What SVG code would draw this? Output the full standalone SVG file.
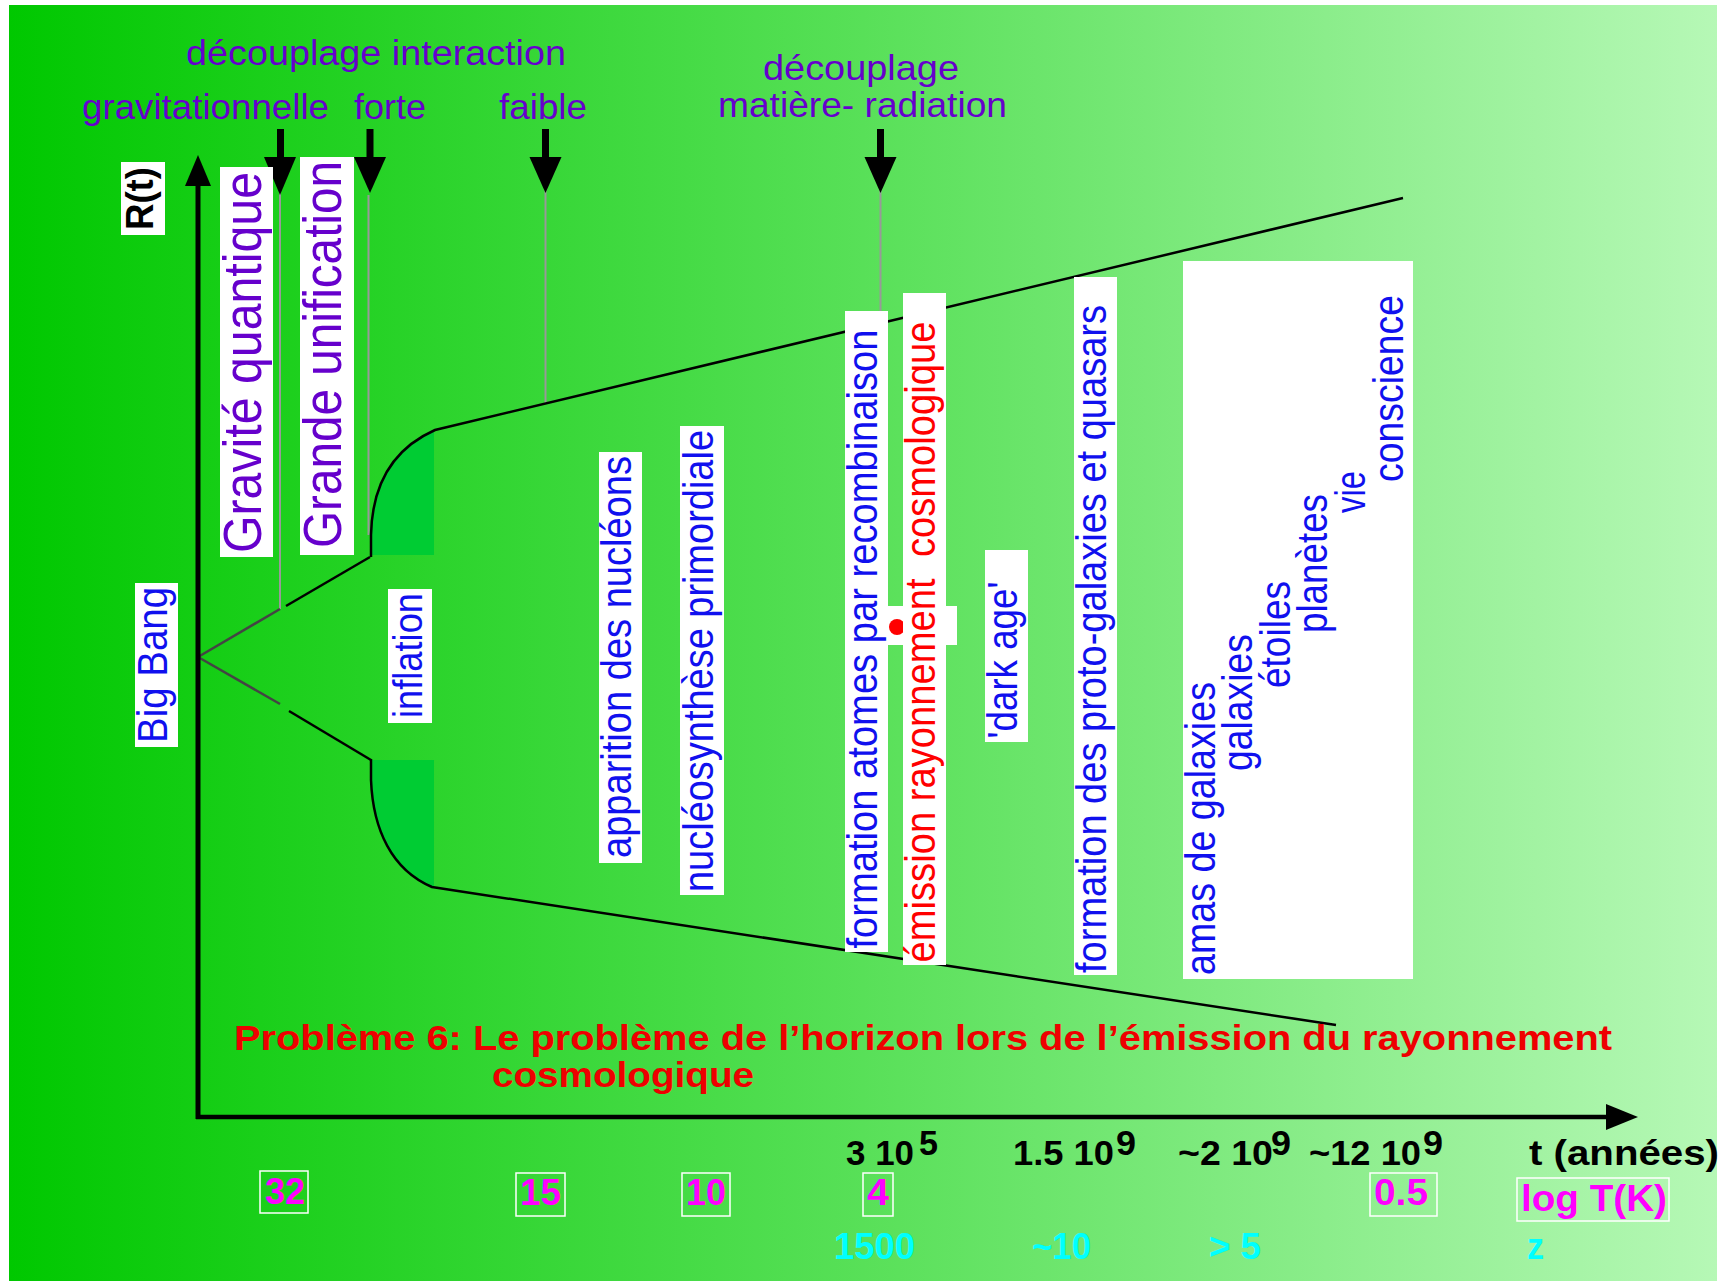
<svg xmlns="http://www.w3.org/2000/svg" width="1729" height="1281" viewBox="0 0 1729 1281">
<defs>
<linearGradient id="bg" x1="9" y1="0" x2="1717" y2="0" gradientUnits="userSpaceOnUse">
<stop offset="0" stop-color="#00c800"/>
<stop offset="0.5" stop-color="#58e058"/>
<stop offset="1" stop-color="#b6f8b6"/>
</linearGradient>
</defs>
<style>
text { font-family: "Liberation Sans", Arial, sans-serif; }
.purple { fill:#6600cc; font-size:35px; }
.blue { fill:#1010ee; font-size:38px; }
.red { fill:#ff0000; font-size:38px; }
.box { fill:#ffffff; }
.num { font-weight:bold; fill:#000000; font-size:35px; }
.sup { font-weight:bold; fill:#000000; font-size:35px; }
.mag { font-weight:bold; fill:#ff00ff; font-size:36px; }
.cyan { font-weight:bold; fill:#00ffff; font-size:36px; }
.title { font-weight:bold; fill:#ee0000; font-size:35px; }
.nbox { fill:none; stroke:#ffffff; stroke-width:1.5; }
.line { stroke:#000000; stroke-width:2.5; fill:none; }
.gray { stroke:#999999; stroke-width:2; fill:none; }
.dk { stroke:#444444; stroke-width:2.5; fill:none; }
.ibg { fill:#00cc33; }
.ah { fill:#000000; }
</style>
<rect width="1729" height="1281" fill="#ffffff"/>
<rect x="9" y="5" width="1708" height="1276" fill="url(#bg)"/>

<g id="inflation-region">
<path class="ibg" d="M371 555 L371 535 C372 488 390 450 435 430 L434 430 L434 555 Z"/>
<path class="ibg" d="M371 760 L371 780 C373 830 392 870 432 887 L434 887 L434 760 Z"/>
</g>

<g id="connectors">
<line class="gray" x1="280" y1="190" x2="280" y2="609"/>
<line class="gray" x1="368.5" y1="195" x2="368.5" y2="535"/>
<line class="gray" x1="545.5" y1="190" x2="545.5" y2="403"/>
<line class="gray" x1="880.5" y1="185" x2="880.5" y2="318"/>
<line class="dk" x1="198" y1="657" x2="280" y2="609"/>
<line class="line" x1="286" y1="606" x2="370" y2="557"/>
<line class="dk" x1="198" y1="657" x2="280" y2="704"/>
<line class="line" x1="289" y1="711" x2="371" y2="760"/>
<path class="line" d="M371 557 L371 535 C372 488 390 450 435 430 L1403 198"/>
<path class="line" d="M371 759 L371 780 C373 830 392 870 432 887 L1336 1025"/>
<line x1="198" y1="1119" x2="198" y2="180" stroke="#000" stroke-width="5"/>
<polygon class="ah" points="185,186 211,186 198,155"/>
<line x1="196" y1="1117" x2="1610" y2="1117" stroke="#000" stroke-width="4.5"/>
<polygon class="ah" points="1606,1104 1606,1130 1638,1117"/>
<rect class="ah" x="277" y="129" width="7" height="30"/>
<polygon class="ah" points="264,157 296,157 280,195"/>
<rect class="ah" x="366.5" y="129" width="7" height="30"/>
<polygon class="ah" points="354,157 386,157 370,193"/>
<rect class="ah" x="542" y="129" width="7" height="30"/>
<polygon class="ah" points="529.5,157 561.5,157 545.5,193"/>
<rect class="ah" x="877" y="129" width="7" height="30"/>
<polygon class="ah" points="864.5,157 896.5,157 880.5,193"/>
</g>

<g id="top-labels">
<text class="purple" x="186" y="65" textLength="380" lengthAdjust="spacingAndGlyphs">découplage interaction</text>
<text class="purple" x="82" y="119" textLength="247" lengthAdjust="spacingAndGlyphs">gravitationnelle</text>
<text class="purple" x="354" y="119" textLength="72" lengthAdjust="spacingAndGlyphs">forte</text>
<text class="purple" x="499" y="119" textLength="88" lengthAdjust="spacingAndGlyphs">faible</text>
<text class="purple" x="763" y="80" textLength="196" lengthAdjust="spacingAndGlyphs">découplage</text>
<text class="purple" x="718" y="117" textLength="289" lengthAdjust="spacingAndGlyphs">matière- radiation</text>
</g>

<g id="node-Rt">
<rect class="box" x="121" y="162" width="44" height="73"/>
<text transform="translate(153,198.5) scale(1.1,1) rotate(-90)" text-anchor="middle" font-size="35" font-weight="bold" fill="#000" textLength="63" lengthAdjust="spacingAndGlyphs">R(t)</text>
</g>

<g id="node-bigbang">
<rect class="box" x="135" y="583" width="43" height="164"/>
<text class="blue" transform="translate(167,665) scale(1.1,1) rotate(-90)" text-anchor="middle" font-size="36" textLength="156" lengthAdjust="spacingAndGlyphs">Big Bang</text>
</g>

<g id="node-gravite">
<rect class="box" x="220" y="167" width="53" height="390"/>
<text class="purple" transform="translate(261,362.5) scale(1.1,1) rotate(-90)" text-anchor="middle" style="font-size:48px" textLength="381" lengthAdjust="spacingAndGlyphs">Gravité quantique</text>
</g>

<g id="node-grande">
<rect class="box" x="300" y="157" width="54" height="398"/>
<text class="purple" transform="translate(341,354.5) scale(1.1,1) rotate(-90)" text-anchor="middle" style="font-size:48px" textLength="387" lengthAdjust="spacingAndGlyphs">Grande unification</text>
</g>

<g id="node-inflation">
<rect class="box" x="388" y="589" width="44" height="134"/>
<text class="blue" transform="translate(422,655.5) scale(1.1,1) rotate(-90)" text-anchor="middle" style="font-size:37px" textLength="125" lengthAdjust="spacingAndGlyphs">inflation</text>
</g>

<g id="node-apparition">
<rect class="box" x="599" y="452" width="43" height="411"/>
<text class="blue" transform="translate(631,657) scale(1.1,1) rotate(-90)" text-anchor="middle" textLength="402" lengthAdjust="spacingAndGlyphs">apparition des nucléons</text>
</g>

<g id="node-nucleosynthese">
<rect class="box" x="680" y="426" width="44" height="469"/>
<text class="blue" transform="translate(712.5,661) scale(1.1,1) rotate(-90)" text-anchor="middle" textLength="462" lengthAdjust="spacingAndGlyphs">nucléosynthèse primordiale</text>
</g>

<g id="node-recombinaison">
<rect class="box" x="887" y="606" width="70" height="39"/>
<circle cx="897" cy="627" r="8" fill="#ff0000"/>
<rect class="box" x="845" y="311" width="43" height="641"/>
<text class="blue" transform="translate(877,639) scale(1.1,1) rotate(-90)" text-anchor="middle" textLength="619" lengthAdjust="spacingAndGlyphs">formation atomes par recombinaison</text>
</g>

<g id="node-emission">
<rect class="box" x="903" y="293" width="43" height="672"/>
<text class="red" transform="translate(935,642) scale(1.1,1) rotate(-90)" text-anchor="middle" textLength="641" lengthAdjust="spacingAndGlyphs">émission rayonnement&#160; cosmologique</text>
</g>

<g id="node-darkage">
<rect class="box" x="985" y="550" width="43" height="192"/>
<text class="blue" transform="translate(1017,660) scale(1.1,1) rotate(-90)" text-anchor="middle" textLength="157" lengthAdjust="spacingAndGlyphs">'dark age'</text>
</g>

<g id="node-protogalaxies">
<rect class="box" x="1074" y="277" width="43" height="698"/>
<text class="blue" transform="translate(1106,639) scale(1.1,1) rotate(-90)" text-anchor="middle" textLength="668" lengthAdjust="spacingAndGlyphs">formation des proto-galaxies et quasars</text>
</g>

<g id="node-structures">
<rect class="box" x="1183" y="261" width="230" height="718"/>
<text class="blue" transform="translate(1215,975) scale(1.1,1) rotate(-90)" textLength="293" lengthAdjust="spacingAndGlyphs">amas de galaxies</text>
<text class="blue" transform="translate(1252,771) scale(1.1,1) rotate(-90)" textLength="137" lengthAdjust="spacingAndGlyphs">galaxies</text>
<text class="blue" transform="translate(1290,688) scale(1.1,1) rotate(-90)" textLength="107" lengthAdjust="spacingAndGlyphs">étoiles</text>
<text class="blue" transform="translate(1327,633) scale(1.1,1) rotate(-90)" textLength="139" lengthAdjust="spacingAndGlyphs">planètes</text>
<text class="blue" transform="translate(1365,513) scale(1.1,1) rotate(-90)" textLength="42" lengthAdjust="spacingAndGlyphs">vie</text>
<text class="blue" transform="translate(1403,482) scale(1.1,1) rotate(-90)" textLength="187" lengthAdjust="spacingAndGlyphs">conscience</text>
</g>

<g id="title">
<text class="title" x="234" y="1050" textLength="1378" lengthAdjust="spacingAndGlyphs">Problème 6: Le problème de l’horizon lors de l’émission du rayonnement</text>
<text class="title" x="492" y="1087" textLength="262" lengthAdjust="spacingAndGlyphs">cosmologique</text>
</g>

<g id="time-labels">
<text class="num" x="846" y="1165" textLength="68" lengthAdjust="spacingAndGlyphs">3 10</text>
<text class="sup" x="919" y="1155" textLength="19" lengthAdjust="spacingAndGlyphs">5</text>
<text class="num" x="1013" y="1165" textLength="101" lengthAdjust="spacingAndGlyphs">1.5 10</text>
<text class="sup" x="1116" y="1155" textLength="20" lengthAdjust="spacingAndGlyphs">9</text>
<text class="num" x="1178" y="1165" textLength="95" lengthAdjust="spacingAndGlyphs">~2 10</text>
<text class="sup" x="1271" y="1155" textLength="20" lengthAdjust="spacingAndGlyphs">9</text>
<text class="num" x="1309" y="1165" textLength="112" lengthAdjust="spacingAndGlyphs">~12 10</text>
<text class="sup" x="1423" y="1155" textLength="20" lengthAdjust="spacingAndGlyphs">9</text>
<text class="num" x="1529" y="1165" textLength="190" lengthAdjust="spacingAndGlyphs">t (années)</text>
</g>

<g id="temperature-labels">
<rect class="nbox" x="260" y="1171" width="48" height="42"/>
<text class="mag" x="265" y="1204" textLength="40" lengthAdjust="spacingAndGlyphs">32</text>
<rect class="nbox" x="516" y="1173" width="49" height="43"/>
<text class="mag" x="520" y="1205" textLength="41" lengthAdjust="spacingAndGlyphs">15</text>
<rect class="nbox" x="682" y="1173" width="48" height="43"/>
<text class="mag" x="686" y="1205" textLength="40" lengthAdjust="spacingAndGlyphs">10</text>
<rect class="nbox" x="863" y="1173" width="30" height="43"/>
<text class="mag" x="867" y="1205" textLength="22" lengthAdjust="spacingAndGlyphs">4</text>
<rect class="nbox" x="1370" y="1173" width="67" height="43"/>
<text class="mag" x="1374" y="1205" textLength="54" lengthAdjust="spacingAndGlyphs">0.5</text>
<rect class="nbox" x="1517" y="1178" width="152" height="43"/>
<text class="mag" x="1521" y="1211" textLength="146" lengthAdjust="spacingAndGlyphs">log T(K)</text>
</g>

<g id="redshift-labels">
<text class="cyan" x="834" y="1259" textLength="81" lengthAdjust="spacingAndGlyphs">1500</text>
<text class="cyan" x="1032" y="1259" textLength="59" lengthAdjust="spacingAndGlyphs">~10</text>
<text class="cyan" x="1209" y="1259" textLength="52" lengthAdjust="spacingAndGlyphs">&gt; 5</text>
<text class="cyan" x="1527" y="1259" textLength="17" lengthAdjust="spacingAndGlyphs">z</text>
</g>
</svg>
